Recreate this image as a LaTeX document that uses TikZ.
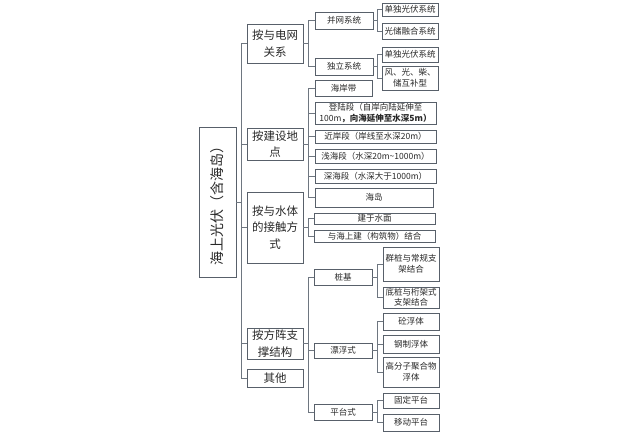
\documentclass[tikz,border=0pt]{standalone}
\usepackage{fontspec}
\setmainfont{Noto Sans CJK SC}
\usepackage{graphicx}
\definecolor{edgec}{RGB}{88,96,106}
\definecolor{linec}{RGB}{110,118,128}
\definecolor{txtc}{RGB}{40,40,40}
\begin{document}
\begin{tikzpicture}[x=1pt,y=-1pt,
  box/.style={draw=edgec, line width=0.8pt, fill=white, inner sep=0pt, align=center, text=txtc},
  lone/.style={box, font=\fontsize{11.5}{16.5}\selectfont, minimum width=56pt},
  sm/.style={box, font=\fontsize{8.5}{10.5}\selectfont},
  two/.style={sm, minimum width=58pt},
  three/.style={sm, minimum width=56pt},
  ln/.style={draw=linec, line width=0.8pt}]
\useasboundingbox (0,0) rectangle (640,436);
\fill[white] (0,0) rectangle (640,436);
% root
\node[box, minimum width=37pt, minimum height=150pt, font=\fontsize{14}{16}\selectfont] (root) at (217.5,202) {\rotatebox{90}{海上光伏（含海岛）}};
% level 1
\node[lone, minimum height=39pt] (A) at (275,43.5) {按与电网\\关系};
\node[lone, minimum height=32pt] (B) at (275,144) {按建设地\\点};
\node[lone, minimum height=71pt] (C) at (275,227.5) {按与水体\\的接触方\\式};
\node[lone, minimum height=31pt] (D) at (275,343.5) {按方阵支\\撑结构};
\node[lone, minimum height=18pt] (E) at (275,378) {其他};
% level 2 grid
\node[two, minimum height=17pt] (A1) at (344,20.5) {并网系统};
\node[two, minimum height=17pt] (A2) at (344,66.5) {独立系统};
% level 3 grid
\node[three, minimum height=13pt] (A11) at (410,9.5) {单独光伏系统};
\node[three, minimum height=16pt] (A12) at (410,31) {光储融合系统};
\node[three, minimum height=15pt] (A21) at (410,54.5) {单独光伏系统};
\node[three, minimum height=24pt] (A22) at (410,78) {风、光、柴、\\储互补型};
% site
\node[sm, minimum width=57pt, minimum height=16pt] (B1) at (343.5,88) {海岸带};
\node[sm, minimum width=121pt, minimum height=22pt] (B2) at (375.5,113) {登陆段（自岸向陆延伸至\\100m{\bfseries ，向海延伸至水深5m）}};
\node[sm, minimum width=121pt, minimum height=13pt] (B3) at (375.5,136.5) {近岸段（岸线至水深20m）};
\node[sm, minimum width=121pt, minimum height=14pt] (B4) at (375.5,156) {浅海段（水深20m\textasciitilde 1000m）};
\node[sm, minimum width=121pt, minimum height=14pt] (B5) at (375.5,176) {深海段（水深大于1000m）};
\node[sm, minimum width=118pt, minimum height=19pt] (B6) at (374,197.5) {海岛};
% water
\node[sm, minimum width=121pt, minimum height=11pt] (C1) at (374.5,218.5) {建于水面};
\node[sm, minimum width=121pt, minimum height=12pt] (C2) at (374.5,236) {与海上建（构筑物）结合};
% support
\node[two, minimum height=16pt] (D1) at (343,277) {桩基};
\node[two, minimum height=15pt] (D2) at (343,350.5) {漂浮式};
\node[two, minimum height=16pt] (D3) at (343,412) {平台式};
\node[three, minimum height=34pt] (D11) at (411,264) {群桩与常规支\\架结合};
\node[three, minimum height=21pt] (D12) at (411,297.5) {底桩与桁架式\\支架结合};
\node[three, minimum height=17pt] (D21) at (411,321.5) {砼浮体};
\node[three, minimum height=18pt] (D22) at (411,344) {钢制浮体};
\node[three, minimum height=30pt] (D23) at (411,372) {高分子聚合物\\浮体};
\node[three, minimum height=15pt] (D31) at (411,400.5) {固定平台};
\node[three, minimum height=17pt] (D32) at (411,422.5) {移动平台};
% connectors
\foreach \c in {A,B,C,D,E} \draw[ln] (root.east) -- ++(5,0) |- (\c.west);
\foreach \c in {A1,A2} \draw[ln] (A.east) -- ++(5,0) |- (\c.west);
\foreach \c in {A11,A12} \draw[ln] (A1.east) -- ++(4,0) |- (\c.west);
\foreach \c in {A21,A22} \draw[ln] (A2.east) -- ++(4,0) |- (\c.west);
\foreach \c in {B1,B2,B3,B4,B5,B6} \draw[ln] (B.east) -- ++(5,0) |- (\c.west);
\foreach \c in {C1,C2} \draw[ln] (C.east) -- ++(5,0) |- (\c.west);
\foreach \c in {D1,D2,D3} \draw[ln] (D.east) -- ++(5,0) |- (\c.west);
\foreach \c in {D11,D12} \draw[ln] (D1.east) -- ++(5,0) |- (\c.west);
\foreach \c in {D21,D22,D23} \draw[ln] (D2.east) -- ++(5,0) |- (\c.west);
\foreach \c in {D31,D32} \draw[ln] (D3.east) -- ++(5,0) |- (\c.west);
\end{tikzpicture}
\end{document}
